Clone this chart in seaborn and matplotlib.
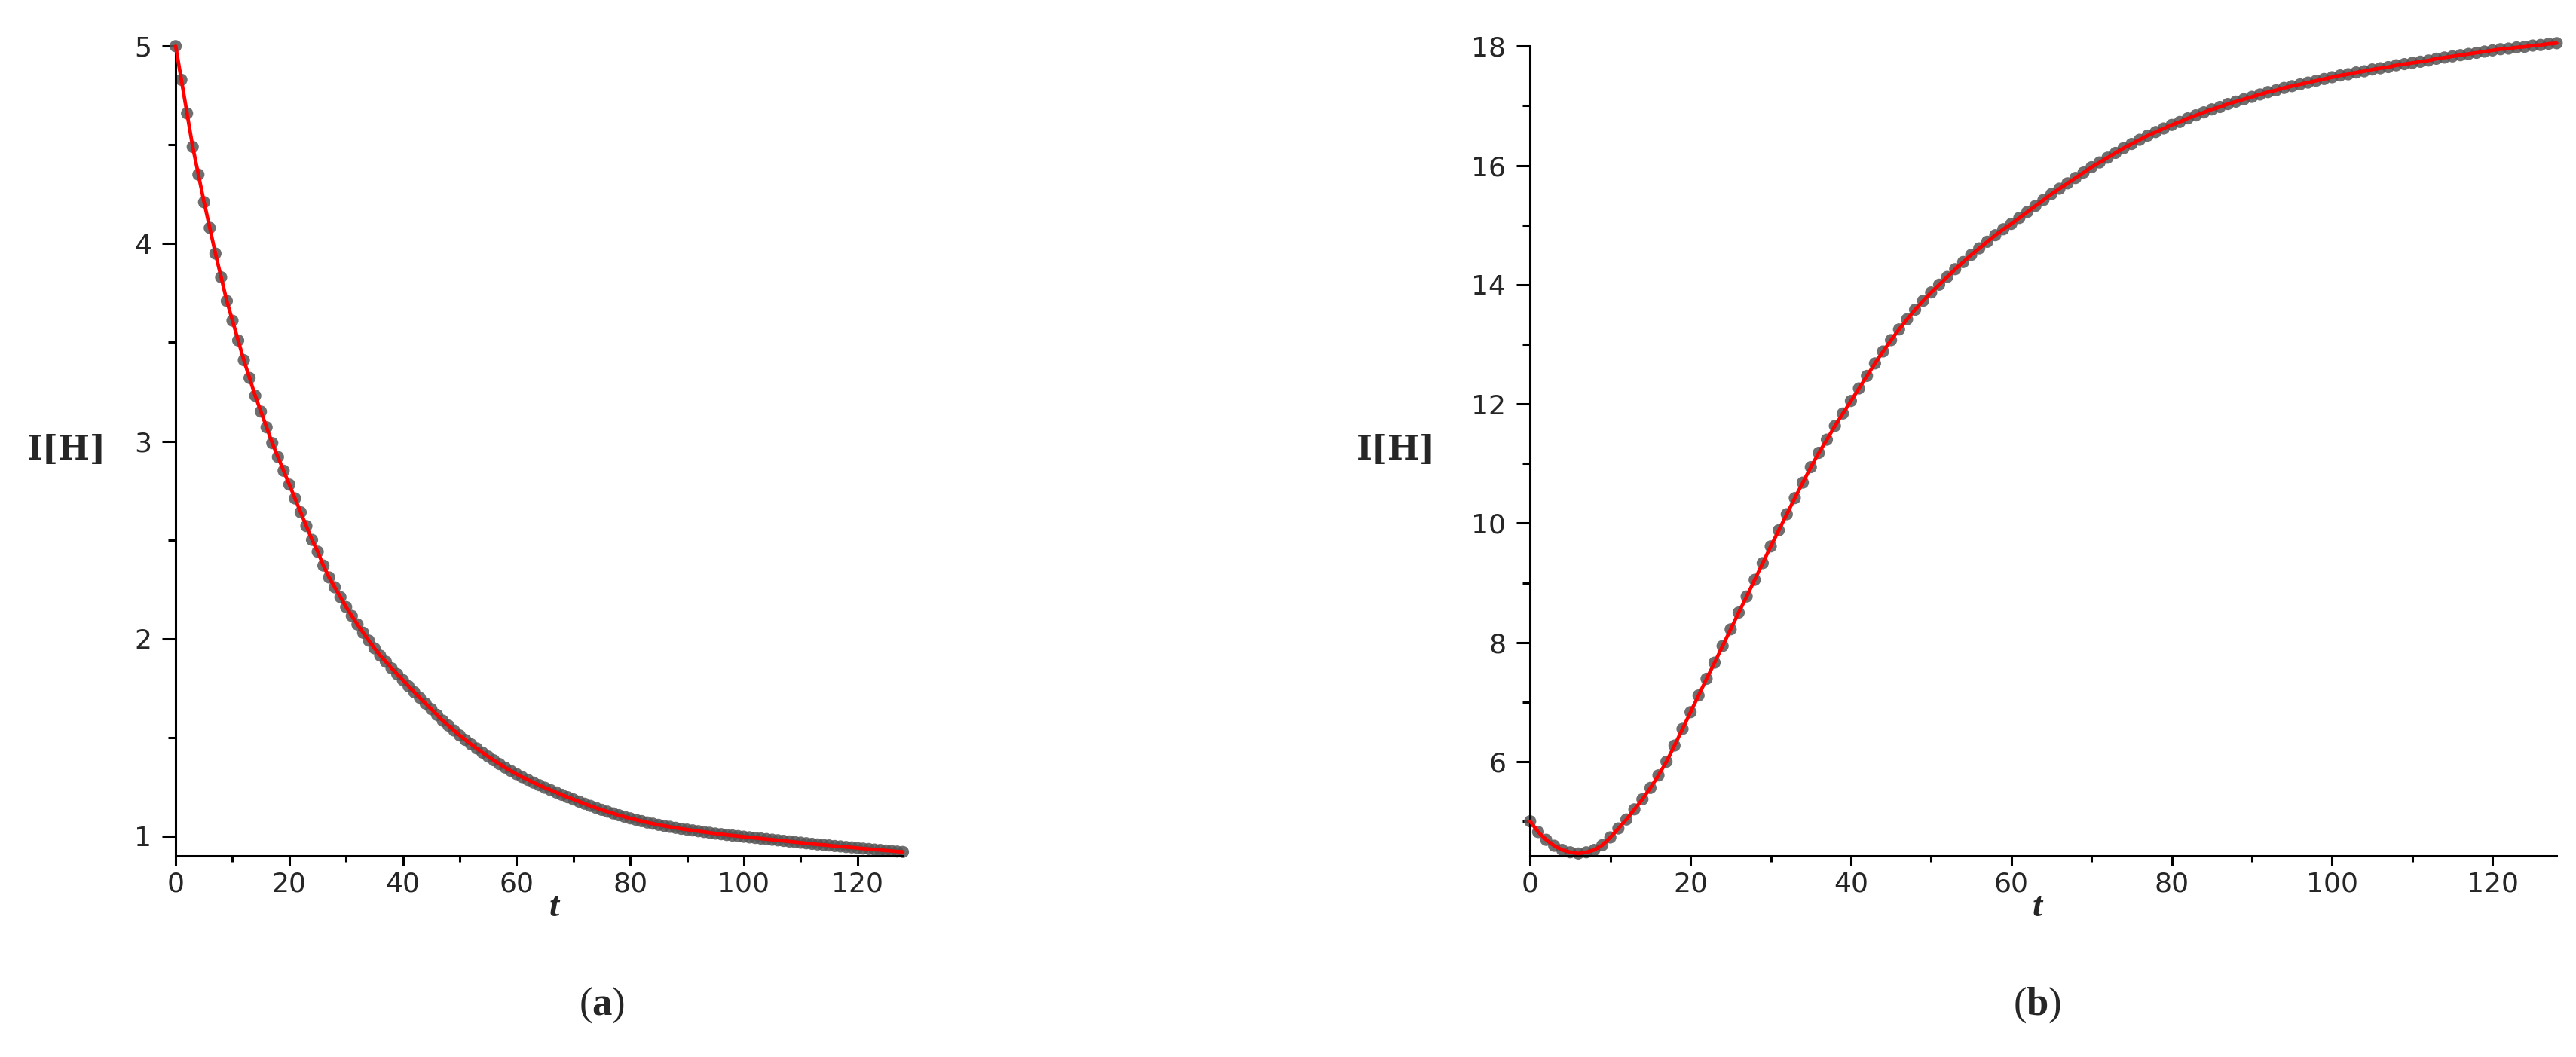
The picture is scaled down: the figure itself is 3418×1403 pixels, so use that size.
import matplotlib
matplotlib.use("Agg")
import matplotlib.pyplot as plt
from matplotlib.ticker import MultipleLocator
import numpy as np
import seaborn as sns

# time grid of the solution points
t = np.arange(0, 129)

# I[H] for panel (a) at t = 0, 1, ..., 128
ih_a = [
    5.00, 4.83, 4.66, 4.49, 4.35, 4.21, 4.08, 3.95, 3.83, 3.71,
    3.61, 3.51, 3.41, 3.32, 3.23, 3.15, 3.07, 2.99, 2.92, 2.85,
    2.78, 2.71, 2.64, 2.57, 2.50, 2.44, 2.37, 2.31, 2.26, 2.21,
    2.160, 2.115, 2.072, 2.030, 1.990, 1.951, 1.914, 1.883, 1.850, 1.820,
    1.790, 1.759, 1.729, 1.700, 1.671, 1.643, 1.614, 1.585, 1.560, 1.535,
    1.510, 1.487, 1.465, 1.444, 1.423, 1.403, 1.384, 1.365, 1.347, 1.330,
    1.314, 1.299, 1.285, 1.271, 1.258, 1.245, 1.233, 1.221, 1.209, 1.197,
    1.186, 1.175, 1.164, 1.153, 1.143, 1.133, 1.124, 1.115, 1.106, 1.098,
    1.090, 1.083, 1.076, 1.069, 1.063, 1.057, 1.052, 1.047, 1.042, 1.037,
    1.033, 1.029, 1.025, 1.021, 1.017, 1.013, 1.010, 1.006, 1.003, 1.000,
    0.997, 0.994, 0.991, 0.988, 0.985, 0.982, 0.979, 0.976, 0.973, 0.970,
    0.967, 0.964, 0.961, 0.958, 0.956, 0.953, 0.950, 0.948, 0.945, 0.943,
    0.940, 0.937, 0.935, 0.932, 0.930, 0.927, 0.925, 0.922, 0.920,
]

# I[H] for panel (b) at t = 0, 1, ..., 128
ih_b = [
    5.00, 4.82, 4.69, 4.59, 4.52, 4.48, 4.46, 4.48, 4.52, 4.60,
    4.73, 4.88, 5.03, 5.20, 5.37, 5.56, 5.77, 6.00, 6.27, 6.55,
    6.83, 7.11, 7.39, 7.66, 7.94, 8.22, 8.50, 8.77, 9.05, 9.33,
    9.61, 9.88, 10.15, 10.42, 10.68, 10.94, 11.18, 11.40, 11.63, 11.84,
    12.05, 12.26, 12.47, 12.68, 12.88, 13.07, 13.25, 13.42, 13.58, 13.73,
    13.87, 14.00, 14.13, 14.26, 14.38, 14.50, 14.61, 14.72, 14.83, 14.93,
    15.02, 15.12, 15.22, 15.32, 15.42, 15.52, 15.61, 15.70, 15.79, 15.88,
    15.97, 16.05, 16.13, 16.21, 16.29, 16.36, 16.43, 16.50, 16.56, 16.62,
    16.68, 16.73, 16.79, 16.84, 16.89, 16.94, 16.98, 17.03, 17.07, 17.11,
    17.15, 17.19, 17.23, 17.26, 17.30, 17.33, 17.36, 17.39, 17.42, 17.45,
    17.48, 17.51, 17.53, 17.56, 17.58, 17.61, 17.63, 17.65, 17.68, 17.70,
    17.72, 17.74, 17.76, 17.79, 17.81, 17.83, 17.85, 17.87, 17.89, 17.91,
    17.93, 17.95, 17.96, 17.98, 17.99, 18.01, 18.02, 18.04, 18.05,
]

x_ticks = [0, 20, 40, 60, 80, 100, 120]
panel_labels = ["a", "b"]

sns.set_style("ticks")
plt.rcParams["font.family"] = ["DejaVu Sans"]
plt.rcParams["mathtext.fontset"] = "custom"
plt.rcParams["mathtext.rm"] = "Liberation Serif"
plt.rcParams["mathtext.bf"] = "Liberation Serif:bold"

fig = plt.figure(figsize=(17.09, 7.015), dpi=200)
ax_a = fig.add_axes([0.0682, 0.1903, 0.2823, 0.766])
ax_b = fig.add_axes([0.594, 0.1903, 0.3985, 0.766])

setup = [
    (ax_a, ih_a, (0.9, 5.0), 1, 0.5),
    (ax_b, ih_b, (4.42, 18.0), 2, 1),
]

for ax, vals, ylim, ymaj, ymin in setup:
    sns.scatterplot(x=t, y=vals, ax=ax, color="#555555", marker="o", s=34,
                    edgecolor="none", alpha=0.85, clip_on=False, zorder=2)
    sns.lineplot(x=t, y=vals, ax=ax, color="#ff0000", lw=1.7,
                 clip_on=False, zorder=3)
    ax.set_xlim(0, 128)
    ax.set_xticks(x_ticks)
    ax.xaxis.set_minor_locator(MultipleLocator(10))
    ax.yaxis.set_major_locator(MultipleLocator(ymaj))
    ax.yaxis.set_minor_locator(MultipleLocator(ymin))
    ax.set_ylim(*ylim)
    ax.set_xlabel("")
    ax.set_ylabel("")
    for side in ["top", "right"]:
        ax.spines[side].set_visible(False)
    for side in ["left", "bottom"]:
        ax.spines[side].set_linewidth(1.1)
        ax.spines[side].set_color("black")
    ax.tick_params(axis="y", which="major", length=6.5, width=1.1,
                   labelsize=13, pad=5, color="black")
    ax.tick_params(axis="y", which="minor", length=3.6, width=1.1,
                   color="black")
    ax.tick_params(axis="x", which="major", length=4.5, width=1.1,
                   labelsize=13, pad=3, color="black")
    ax.tick_params(axis="x", which="minor", length=2.8, width=1.1,
                   color="black")

# axis titles and panel letters
for xl, xt, lab in [(0.0258, 0.215, panel_labels[0]),
                    (0.5421, 0.7908, panel_labels[1])]:
    fig.text(xl, 0.5738, "I[H]", family="DejaVu Serif", weight="bold",
             fontsize=16, ha="center", va="center")
    fig.text(xt, 0.1411, "t", family="Liberation Serif", weight="bold",
             style="italic", fontsize=17, ha="center", va="center")
    fig.text(xt + 0.0185 * (lab == "a"), 0.0492,
             "(" + r"$\mathbf{" + lab + "}$" + ")",
             family="Liberation Serif", fontsize=19, ha="center", va="center")

fig.savefig("out.png", dpi=200, facecolor="white")
